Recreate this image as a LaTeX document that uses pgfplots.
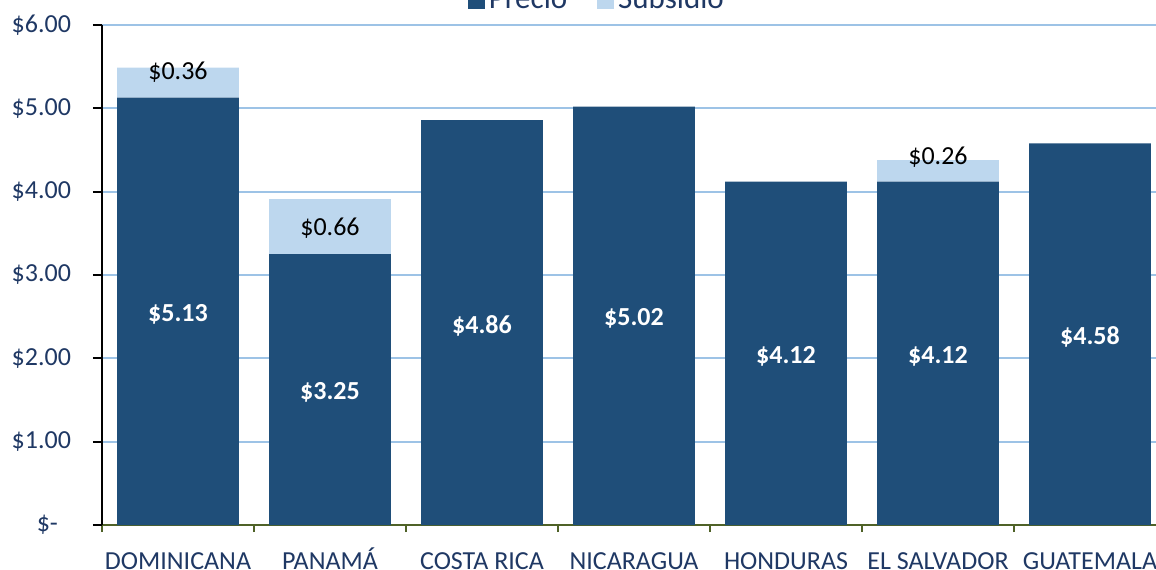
\documentclass[border=0pt]{standalone}
\usepackage{fontspec}
\setmainfont{Carlito}
\usepackage{pgfplots}
\pgfplotsset{compat=1.18}
\definecolor{precio}{HTML}{1F4E79}
\definecolor{subsidio}{HTML}{BDD7EE}
\definecolor{gridc}{HTML}{9DC3E6}
\definecolor{txt}{HTML}{1F3864}
\definecolor{axgreen}{HTML}{4F6228}
\begin{document}
\fontsize{13pt}{15.6pt}\selectfont
\begin{tikzpicture}[font=\fontsize{13pt}{15.6pt}\selectfont]
\begin{axis}[
  at={(0,0)}, anchor=south west,
  scale only axis, width=532pt, height=250pt,
  ybar stacked, bar width=0.8,
  xmin=-0.5, xmax=6.5, ymin=0, ymax=6,
  enlargelimits=false,
  xtick={0,...,6},
  xticklabels={DOMINICANA, PANAMÁ, COSTA RICA, NICARAGUA, HONDURAS, EL SALVADOR, GUATEMALA},
  minor xtick={-0.5,0.5,...,6.5},
  ytick={0,...,6},
  yticklabels={\$-\kern6.5pt,\$1.00,\$2.00,\$3.00,\$4.00,\$5.00,\$6.00},
  axis lines*=left,
  tick align=outside,
  major tick length=4.5pt, minor tick length=3.5pt,
  major x tick style={draw=none},
  minor x tick style={axgreen, line width=1pt},
  ytick style={black, line width=1pt},
  x axis line style={axgreen, line width=1pt},
  y axis line style={black, line width=1pt},
  ymajorgrids, major grid style={gridc, line width=0.9pt},
  ticklabel style={text=txt, font=\fontsize{13pt}{15.6pt}\selectfont},
  xticklabel style={anchor=base, yshift=-17.5pt},
  yticklabel style={anchor=east, xshift=-6.5pt},
  legend style={at={(0.466,1)}, anchor=center, yshift=12.5pt, draw=none, fill=none,
    font=\fontsize{15.5pt}{18pt}\selectfont, text=txt,
    /tikz/every even column/.append style={column sep=13pt}},
  legend columns=2,
  legend image code/.code={\fill[#1] (0pt,-4.25pt) rectangle (8.5pt,4.25pt);},
]
\addplot[fill=precio, draw=none] coordinates {(0,5.13) (1,3.25) (2,4.86) (3,5.02) (4,4.12) (5,4.12) (6,4.58)};
\addplot[fill=subsidio, draw=none] coordinates {(0,0.36) (1,0.66) (2,0) (3,0) (4,0) (5,0.26) (6,0)};
\legend{Precio, Subsidio}
\end{axis}
\begin{axis}[
  at={(0,0)}, anchor=south west,
  scale only axis, width=532pt, height=250pt,
  xmin=-0.5, xmax=6.5, ymin=0, ymax=6,
  hide axis, clip=false,
]
\addplot[draw=none, mark=none, nodes near coords, point meta=explicit symbolic,
  every node near coord/.append style={anchor=center, yshift=-1.5pt, font=\fontsize{13pt}{15.6pt}\selectfont\bfseries, text=white}]
  coordinates {(0,2.565) [\$5.13] (1,1.625) [\$3.25] (2,2.43) [\$4.86] (3,2.51) [\$5.02]
               (4,2.06) [\$4.12] (5,2.06) [\$4.12] (6,2.29) [\$4.58]};
\addplot[draw=none, mark=none, nodes near coords, point meta=explicit symbolic,
  every node near coord/.append style={anchor=center, yshift=-1pt, font=\fontsize{13pt}{15.6pt}\selectfont, text=black}]
  coordinates {(0,5.46) [\$0.36] (1,3.59) [\$0.66] (5,4.44) [\$0.26]};
\end{axis}
\pgfresetboundingbox
\useasboundingbox (-51pt,-22pt) rectangle (527pt,262.5pt);
\end{tikzpicture}
\end{document}
